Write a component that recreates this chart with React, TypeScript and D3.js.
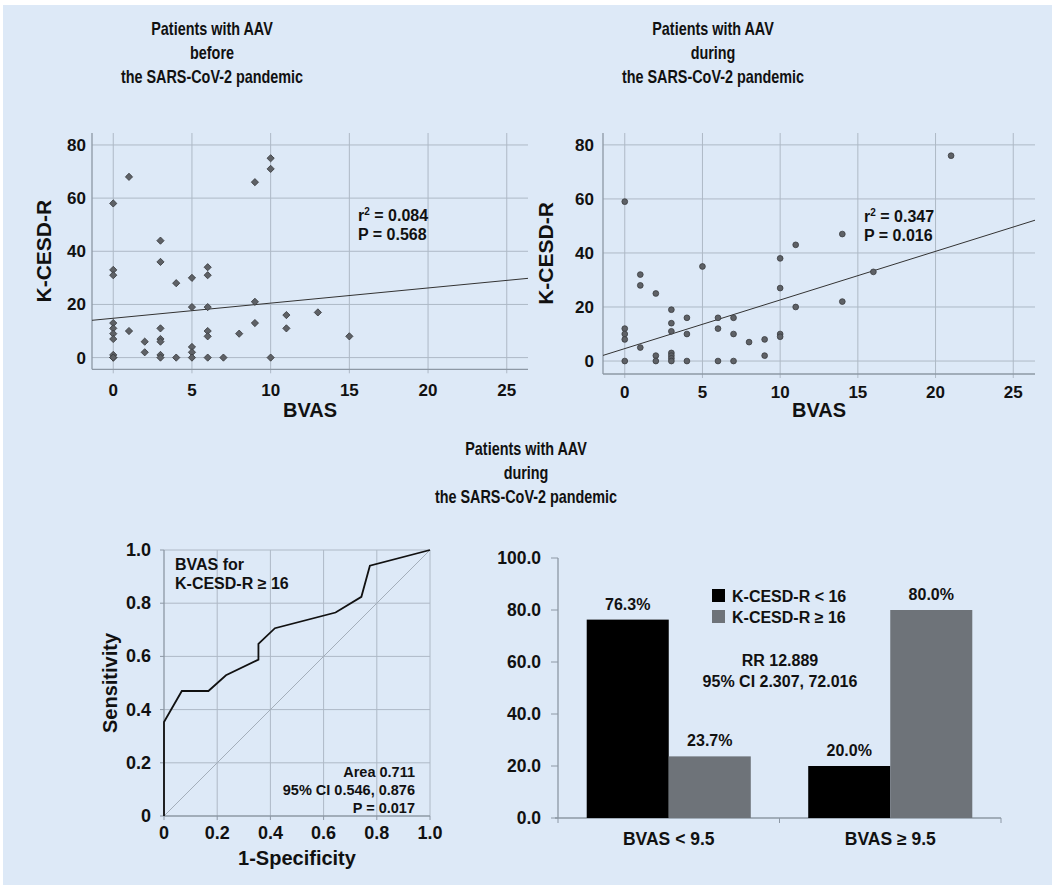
import React, { useEffect, useRef } from "react";
import * as d3 from "d3";

// BVAS vs K-CESD-R, before the pandemic (diamonds)
const beforeBvas = [0, 1, 0, 0, 0, 0, 0, 0, 0, 0, 0, 1, 2, 2, 3, 3, 3, 3, 3, 3, 3, 4, 4, 5, 5, 5, 5, 5, 6, 6, 6, 6, 6, 6, 7, 8, 9, 9, 9, 10, 10, 10, 11, 11, 13, 15];
const beforeKcesd = [58, 68, 33, 31, 13, 11, 9, 7, 1, 0, 0, 10, 6, 2, 44, 36, 11, 7, 6, 1, 0, 28, 0, 30, 19, 4, 2, 0, 34, 31, 19, 10, 8, 0, 0, 9, 66, 21, 13, 75, 71, 0, 16, 11, 17, 8];
const beforeFit = { intercept: 14.8, slope: 0.57 };

// during the pandemic (circles)
const duringBvas = [0, 0, 0, 0, 0, 1, 1, 1, 2, 2, 2, 3, 3, 3, 3, 3, 3, 3, 4, 4, 4, 5, 6, 6, 6, 7, 7, 7, 8, 9, 9, 10, 10, 10, 10, 11, 11, 14, 14, 16, 21];
const duringKcesd = [59, 12, 10, 8, 0, 32, 28, 5, 25, 2, 0, 19, 14, 11, 3, 2, 1, 0, 16, 10, 0, 35, 16, 12, 0, 16, 10, 0, 7, 8, 2, 38, 27, 10, 9, 43, 20, 47, 22, 33, 76];
const duringFit = { intercept: 4.6, slope: 1.8 };

const scatterXTicks = [0, 5, 10, 15, 20, 25];
const scatterYTicks = [0, 20, 40, 60, 80];

// ROC curve
const rocFpr = [0, 0, 0.067, 0.167, 0.233, 0.355, 0.355, 0.417, 0.645, 0.742, 0.774, 1];
const rocTpr = [0, 0.353, 0.47, 0.47, 0.529, 0.588, 0.647, 0.706, 0.765, 0.824, 0.941, 1];
const rocTicks = [0, 0.2, 0.4, 0.6, 0.8, 1.0];

// grouped bars
const barCategories = ["BVAS < 9.5", "BVAS \u2265 9.5"];
const barSeries = ["K-CESD-R < 16", "K-CESD-R \u2265 16"];
const barLow = [76.3, 20.0];
const barHigh = [23.7, 80.0];
const barTicks = [0, 20, 40, 60, 80, 100];

const FONT = "'Liberation Sans', Arial, sans-serif";
const BG = "#dde9f7";
const GRID = "#aeb9c6";
const AXIS = "#8d98a5";

function App() {
  const ref = useRef(null);

  useEffect(() => {
    const svg = d3.select(ref.current);
    svg.selectAll("*").remove();

    svg.append("rect").attr("x", 3).attr("y", 5).attr("width", 1049).attr("height", 880).attr("fill", BG);

    const txt = (parent, t, x, y, anchor, size) => parent.append("text")
      .attr("x", x).attr("y", y).attr("text-anchor", anchor)
      .attr("font-family", FONT).attr("font-weight", "bold").attr("font-size", size)
      .attr("fill", "#111").text(t);

    // titles: narrow bold face, squeezed horizontally
    const title = (cx, y0, lines) => {
      const g = svg.append("g").attr("transform", `translate(${cx},0) scale(0.8,1)`);
      lines.forEach((t, i) => txt(g, t, 0, y0 + i * 24, "middle", 18));
    };
    title(212, 35, ["Patients with AAV", "before", "the SARS-CoV-2 pandemic"]);
    title(713, 35, ["Patients with AAV", "during", "the SARS-CoV-2 pandemic"]);
    title(526, 455, ["Patients with AAV", "during", "the SARS-CoV-2 pandemic"]);

    // scatter panels
    const scatter = (opt) => {
      const { bvas, kcesd, fit, xr, yr, xd, yd, shape, label, yLabGap, xLabDy, yTitleX } = opt;
      const x = d3.scaleLinear().domain(xd).range(xr);
      const y = d3.scaleLinear().domain(yd).range(yr);
      const g = svg.append("g");

      scatterXTicks.forEach(t => {
        g.append("line").attr("x1", x(t)).attr("x2", x(t)).attr("y1", yr[1]).attr("y2", yr[0] + 4)
          .attr("stroke", GRID).attr("stroke-width", 1);
        txt(g, t, x(t), yr[0] + xLabDy, "middle", 17);
      });
      scatterYTicks.forEach(t => {
        g.append("line").attr("x1", xr[0]).attr("x2", xr[1]).attr("y1", y(t)).attr("y2", y(t))
          .attr("stroke", GRID).attr("stroke-width", 1);
        txt(g, t, xr[0] - yLabGap, y(t) + 6, "end", 17);
      });
      g.append("line").attr("x1", xr[0]).attr("x2", xr[0]).attr("y1", yr[1]).attr("y2", yr[0]).attr("stroke", AXIS).attr("stroke-width", 1.3);
      g.append("line").attr("x1", xr[0]).attr("x2", xr[1]).attr("y1", yr[0]).attr("y2", yr[0]).attr("stroke", AXIS).attr("stroke-width", 1.3);

      // fit line
      g.append("line")
        .attr("x1", x(xd[0])).attr("y1", y(fit.intercept + fit.slope * xd[0]))
        .attr("x2", x(xd[1])).attr("y2", y(fit.intercept + fit.slope * xd[1]))
        .attr("stroke", "#333").attr("stroke-width", 1);

      const sym = d3.symbol().type(shape === "diamond" ? d3.symbolSquare : d3.symbolCircle).size(shape === "diamond" ? 26 : 26);
      bvas.forEach((b, i) => {
        g.append("path").attr("d", sym())
          .attr("transform", `translate(${x(b)},${y(kcesd[i])})${shape === "diamond" ? " rotate(45)" : ""}`)
          .attr("fill", "#5e6166").attr("stroke", "#3a3c40").attr("stroke-width", 0.8);
      });

      txt(g, "BVAS", (xr[0] + xr[1]) / 2, 417, "middle", 20);
      const ly = (yr[0] + yr[1]) / 2;
      g.append("text").attr("transform", `translate(${yTitleX},${ly}) rotate(-90)`).attr("text-anchor", "middle")
        .attr("font-family", FONT).attr("font-weight", "bold").attr("font-size", 21).attr("fill", "#111").text("K-CESD-R");

      const ann = g.append("text").attr("x", label.x).attr("y", label.y)
        .attr("font-family", FONT).attr("font-weight", "bold").attr("font-size", 16).attr("fill", "#111");
      ann.append("tspan").text("r");
      ann.append("tspan").attr("font-size", 10).attr("dy", -6).text("2");
      ann.append("tspan").attr("dy", 6).text(` = ${label.r2}`);
      txt(g, `P = ${label.p}`, label.x, label.y + 19, "start", 16);
    };

    scatter({
      bvas: beforeBvas, kcesd: beforeKcesd, fit: beforeFit,
      xr: [92, 528], yr: [369.3, 133], xd: [-1.35, 26.35], yd: [-4.4, 84.5],
      shape: "diamond", label: { x: 358, y: 221, r2: "0.084", p: "0.568" },
      yLabGap: 6, xLabDy: 27, yTitleX: 51
    });
    scatter({
      bvas: duringBvas, kcesd: duringKcesd, fit: duringFit,
      xr: [603, 1035], yr: [374, 133], xd: [-1.4, 26.4], yd: [-4.8, 84.4],
      shape: "circle", label: { x: 864, y: 222, r2: "0.347", p: "0.016" },
      yLabGap: 9, xLabDy: 24, yTitleX: 553
    });

    // ROC
    const rx = d3.scaleLinear().domain([0, 1]).range([164, 430]);
    const ry = d3.scaleLinear().domain([0, 1]).range([816, 550]);
    const roc = svg.append("g");
    rocTicks.forEach(t => {
      if (t > 0) {
        roc.append("line").attr("x1", rx(t)).attr("x2", rx(t)).attr("y1", ry(0)).attr("y2", ry(1)).attr("stroke", GRID);
        roc.append("line").attr("x1", rx(0)).attr("x2", rx(1)).attr("y1", ry(t)).attr("y2", ry(t)).attr("stroke", GRID);
      }
      roc.append("line").attr("x1", rx(0) - 4).attr("x2", rx(0)).attr("y1", ry(t)).attr("y2", ry(t)).attr("stroke", AXIS);
      roc.append("line").attr("x1", rx(t)).attr("x2", rx(t)).attr("y1", ry(0)).attr("y2", ry(0) + 4).attr("stroke", AXIS);
      const lab = t === 0 ? "0" : t.toFixed(1);
      txt(roc, lab, rx(0) - 13, ry(t) + 6, "end", 18);
      txt(roc, lab, rx(t), ry(0) + 23, "middle", 18);
    });
    roc.append("line").attr("x1", rx(0)).attr("x2", rx(0)).attr("y1", ry(0)).attr("y2", ry(1)).attr("stroke", AXIS).attr("stroke-width", 1.3);
    roc.append("line").attr("x1", rx(0)).attr("x2", rx(1)).attr("y1", ry(0)).attr("y2", ry(0)).attr("stroke", AXIS).attr("stroke-width", 1.3);
    roc.append("line").attr("x1", rx(0)).attr("y1", ry(0)).attr("x2", rx(1)).attr("y2", ry(1)).attr("stroke", "#a3aeba").attr("stroke-width", 1);
    const rocLine = d3.line().x(d => rx(d[0])).y(d => ry(d[1]));
    roc.append("path").datum(rocFpr.map((f, i) => [f, rocTpr[i]])).attr("d", rocLine)
      .attr("fill", "none").attr("stroke", "#111").attr("stroke-width", 1.8);

    txt(roc, "BVAS for", 175, 570, "start", 16);
    txt(roc, "K-CESD-R \u2265 16", 175, 589, "start", 16);
    txt(roc, "Area 0.711", 415, 777, "end", 14.5);
    txt(roc, "95% CI 0.546, 0.876", 415, 795, "end", 14.5);
    txt(roc, "P = 0.017", 415, 813, "end", 14.5);
    txt(roc, "1-Specificity", 297, 865, "middle", 20);
    roc.append("text").attr("transform", `translate(117,683) rotate(-90)`).attr("text-anchor", "middle")
      .attr("font-family", FONT).attr("font-weight", "bold").attr("font-size", 20).attr("fill", "#111").text("Sensitivity");

    // grouped bars
    const bx = d3.scaleBand().domain(barCategories).range([558, 1001]);
    const bs = d3.scaleBand().domain(barSeries).range([0, bx.bandwidth()]).paddingOuter(0.35);
    const by = d3.scaleLinear().domain([0, 100]).range([818, 558]);
    const colors = ["#000000", "#6e7379"];
    const bar = svg.append("g");
    barTicks.forEach(t => {
      bar.append("line").attr("x1", 551).attr("x2", 558).attr("y1", by(t)).attr("y2", by(t)).attr("stroke", AXIS);
      txt(bar, t.toFixed(1), 541, by(t) + 6, "end", 17.5);
    });
    bar.append("line").attr("x1", 558).attr("x2", 558).attr("y1", by(100)).attr("y2", by(0)).attr("stroke", AXIS).attr("stroke-width", 1.3);
    bar.append("line").attr("x1", 555).attr("x2", 1001).attr("y1", by(0)).attr("y2", by(0)).attr("stroke", AXIS).attr("stroke-width", 1.3);
    [558, 779.5, 1001].forEach(v => {
      bar.append("line").attr("x1", v).attr("x2", v).attr("y1", by(0)).attr("y2", by(0) + 5).attr("stroke", AXIS);
    });
    barCategories.forEach((c, ci) => {
      [barLow[ci], barHigh[ci]].forEach((v, si) => {
        const x0 = bx(c) + bs(barSeries[si]);
        bar.append("rect").attr("x", x0).attr("y", by(v)).attr("width", bs.bandwidth()).attr("height", by(0) - by(v))
          .attr("fill", colors[si]);
        txt(bar, `${v.toFixed(1)}%`, x0 + bs.bandwidth() / 2, by(v) - 10, "middle", 16);
      });
      txt(bar, c, bx(c) + bx.bandwidth() / 2, 845, "middle", 17.5);
    });
    barSeries.forEach((s, si) => {
      bar.append("rect").attr("x", 712).attr("y", 589 + si * 21).attr("width", 13).attr("height", 13).attr("fill", colors[si]);
      txt(bar, s, 732, 602 + si * 21, "start", 16);
    });
    txt(bar, "RR 12.889", 780, 666, "middle", 16);
    txt(bar, "95% CI 2.307, 72.016", 780, 687, "middle", 16);
  }, []);

  return (
    <svg ref={ref} width={1052} height={895} style={{ position: "absolute", left: 0, top: 0, background: "#fff" }}></svg>
  );
}

export default App;
